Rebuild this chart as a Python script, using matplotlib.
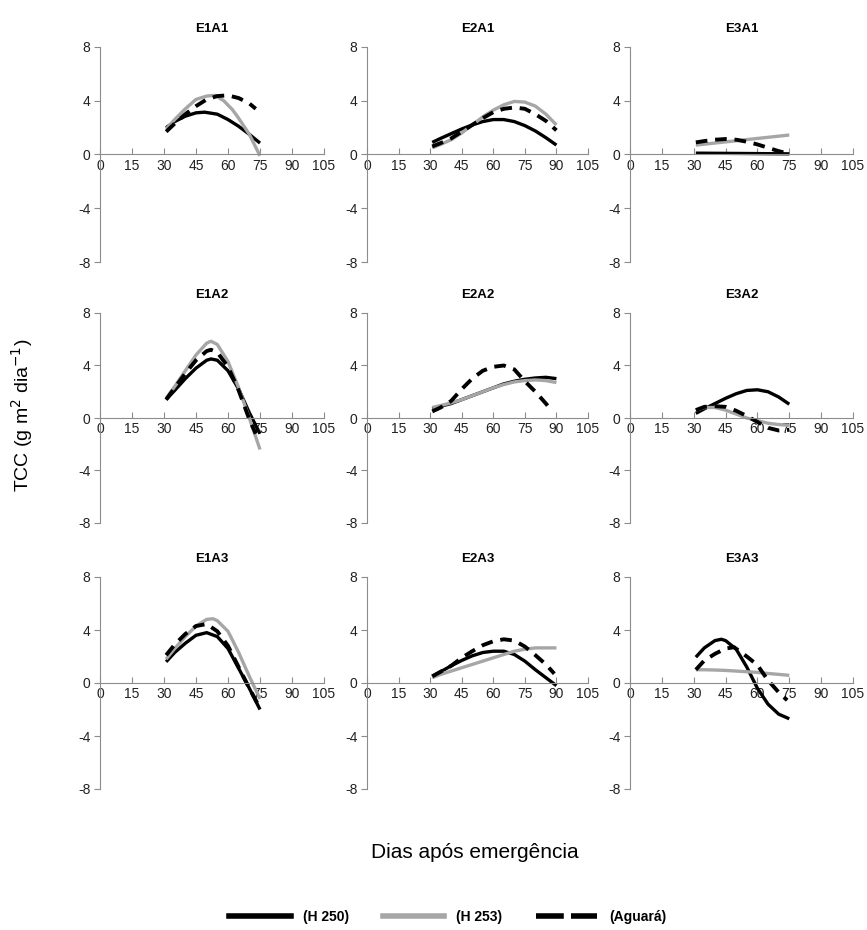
import matplotlib.pyplot as plt
from matplotlib.lines import Line2D

plt.rcParams['font.family'] = ['Liberation Sans', 'DejaVu Sans']
plt.rcParams['axes.unicode_minus'] = False

# days after emergence and TCC values
titles = ["E1A1", "E2A1", "E3A1",
          "E1A2", "E2A2", "E3A2",
          "E1A3", "E2A3", "E3A3"]

d75 = [31, 35, 40, 45, 50, 55, 60, 65, 70, 75]
d90 = [31, 35, 40, 45, 50, 55, 60, 65, 70, 75, 80, 85, 90]

# E1A1
e1a1_h250 = ([31, 35, 40, 45, 49, 55, 60, 65, 70, 75],
             [2.0, 2.45, 2.85, 3.1, 3.15, 3.0, 2.6, 2.1, 1.5, 0.85])
e1a1_h253 = ([31, 35, 40, 45, 50, 54, 58, 62, 65, 70, 75],
             [1.9, 2.6, 3.4, 4.1, 4.35, 4.4, 4.0, 3.35, 2.7, 1.5, -0.1])
e1a1_agu = ([31, 35, 40, 45, 50, 55, 60, 65, 70, 73],
            [1.7, 2.3, 3.0, 3.6, 4.1, 4.35, 4.4, 4.2, 3.8, 3.4])
# E2A1
e2a1_h250 = (d90, [0.9, 1.2, 1.55, 1.9, 2.2, 2.45, 2.6, 2.6, 2.45, 2.15, 1.75, 1.25, 0.7])
e2a1_h253 = (d90, [0.5, 0.75, 1.1, 1.6, 2.2, 2.8, 3.3, 3.7, 3.95, 3.9, 3.6, 3.0, 2.2])
e2a1_agu = (d90, [0.6, 0.85, 1.2, 1.7, 2.2, 2.7, 3.15, 3.4, 3.5, 3.4, 3.0, 2.5, 1.8])
# E3A1
e3a1_h250 = ([31, 50, 75], [0.1, 0.08, 0.05])
e3a1_h253 = ([31, 75], [0.7, 1.45])
e3a1_agu = (d75, [0.9, 1.0, 1.1, 1.15, 1.1, 0.95, 0.75, 0.5, 0.25, 0.05])
# E1A2
e1a2_h250 = ([31, 35, 40, 45, 50, 52, 55, 60, 65, 70, 75],
             [1.4, 2.1, 3.0, 3.8, 4.4, 4.5, 4.4, 3.6, 2.2, 0.4, -1.2])
e1a2_h253 = ([31, 35, 40, 45, 50, 52, 55, 60, 65, 70, 75],
             [1.5, 2.4, 3.6, 4.8, 5.7, 5.85, 5.6, 4.3, 2.3, 0.0, -2.4])
e1a2_agu = ([31, 35, 40, 45, 50, 52, 55, 60, 65, 70, 73],
            [1.4, 2.3, 3.4, 4.4, 5.1, 5.2, 5.0, 3.9, 2.1, -0.1, -1.2])
# E2A2
e2a2_h250 = (d90, [0.7, 0.9, 1.1, 1.4, 1.7, 2.0, 2.3, 2.6, 2.8, 2.95, 3.05, 3.1, 3.0])
e2a2_h253 = (d90, [0.8, 0.95, 1.15, 1.4, 1.7, 2.0, 2.3, 2.55, 2.75, 2.85, 2.9, 2.85, 2.7])
e2a2_agu = ([31, 35, 40, 45, 50, 55, 60, 65, 70, 75, 80, 85, 87],
            [0.5, 0.8, 1.3, 2.2, 3.0, 3.6, 3.9, 4.0, 3.7, 2.8, 2.0, 1.1, 0.7])
# E3A2
e3a2_h250 = (d75, [0.35, 0.7, 1.1, 1.5, 1.85, 2.1, 2.15, 2.0, 1.6, 1.05])
e3a2_h253 = (d75, [0.6, 0.8, 0.8, 0.6, 0.3, 0.0, -0.2, -0.4, -0.5, -0.55])
e3a2_agu = (d75, [0.6, 0.85, 0.9, 0.85, 0.55, 0.15, -0.3, -0.75, -0.95, -0.9])
# E1A3
e1a3_h250 = (d75, [1.6, 2.3, 3.0, 3.6, 3.8, 3.5, 2.6, 1.1, -0.4, -2.0])
e1a3_h253 = ([31, 35, 40, 45, 50, 53, 55, 60, 65, 70, 75],
             [1.8, 2.6, 3.5, 4.3, 4.8, 4.85, 4.7, 3.9, 2.3, 0.5, -1.2])
e1a3_agu = ([31, 35, 40, 45, 50, 55, 60, 65, 70, 74],
            [2.1, 2.9, 3.7, 4.3, 4.45, 3.9, 2.8, 1.2, -0.4, -1.6])
# E2A3
e2a3_h250 = (d90, [0.5, 0.85, 1.3, 1.7, 2.05, 2.3, 2.4, 2.4, 2.15, 1.65, 1.0, 0.4, -0.2])
e2a3_h253 = (d90, [0.4, 0.65, 0.9, 1.15, 1.4, 1.65, 1.9, 2.15, 2.4, 2.55, 2.65, 2.65, 2.65])
e2a3_agu = ([31, 35, 40, 45, 50, 55, 60, 65, 70, 75, 80, 85, 89],
            [0.5, 0.85, 1.3, 1.9, 2.4, 2.85, 3.15, 3.3, 3.2, 2.75, 2.1, 1.4, 0.7])
# E3A3
e3a3_h250 = ([31, 35, 40, 43, 45, 50, 55, 60, 65, 70, 75],
             [1.95, 2.65, 3.2, 3.3, 3.2, 2.55, 1.2, -0.4, -1.6, -2.35, -2.7])
e3a3_h253 = (d75, [1.0, 1.0, 0.98, 0.95, 0.9, 0.85, 0.8, 0.72, 0.65, 0.58])
e3a3_agu = ([31, 35, 40, 45, 49, 55, 60, 65, 70, 74],
            [1.0, 1.7, 2.2, 2.6, 2.7, 2.0, 1.35, 0.2, -0.7, -1.3])

panels = [
    (e1a1_h250, e1a1_h253, e1a1_agu), (e2a1_h250, e2a1_h253, e2a1_agu), (e3a1_h250, e3a1_h253, e3a1_agu),
    (e1a2_h250, e1a2_h253, e1a2_agu), (e2a2_h250, e2a2_h253, e2a2_agu), (e3a2_h250, e3a2_h253, e3a2_agu),
    (e1a3_h250, e1a3_h253, e1a3_agu), (e2a3_h250, e2a3_h253, e2a3_agu), (e3a3_h250, e3a3_h253, e3a3_agu),
]

series_labels = ["(H 250)", "(H 253)", "(Aguará)"]
x_ticks = [0, 15, 30, 45, 60, 75, 90, 105]
y_ticks = [-8, -4, 0, 4, 8]

W, H = 867, 930
fig = plt.figure(figsize=(W / 100, H / 100), dpi=100)

# pixel boxes of the plot areas (x from 0 to 105, y from -8 to 8)
col_px = [(100, 324), (367, 588), (630, 853)]
row_px = [(47, 262), (313, 523), (577, 789)]

axis_grey = "#8c8c8c"
styles = [dict(color="black", lw=2.4, ls="-"),
          dict(color="#a6a6a6", lw=2.4, ls="-"),
          dict(color="black", lw=2.8, ls=(0, (3, 2)))]

for i, (title, curves) in enumerate(zip(titles, panels)):
    r, c = divmod(i, 3)
    x0, x1 = col_px[c]
    y0, y1 = row_px[r]
    ax = fig.add_axes([x0 / W, 1 - y1 / H, (x1 - x0) / W, (y1 - y0) / H])
    for (xs, ys), st in zip(curves, styles):
        ax.plot(xs, ys, solid_capstyle="butt", dash_capstyle="butt", **st)
    ax.set_xlim(0, 105)
    ax.set_ylim(-8, 8)
    ax.set_xticks(x_ticks)
    ax.set_yticks(y_ticks)
    ax.spines["top"].set_visible(False)
    ax.spines["right"].set_visible(False)
    ax.spines["bottom"].set_position(("data", 0))
    ax.spines["left"].set_color(axis_grey)
    ax.spines["bottom"].set_color(axis_grey)
    ax.tick_params(axis="x", direction="in", length=4, color=axis_grey,
                   labelsize=10, pad=3, labelcolor="#222222")
    ax.tick_params(axis="y", direction="out", length=4, color=axis_grey,
                   labelsize=10, pad=3, labelcolor="#222222")
    ax.patch.set_alpha(0)
    ax.set_title(title, fontsize=9.5, fontweight="bold", pad=11)

fig.text(22 / W, 1 - 415 / H, "TCC (g m$^{2}$ dia$^{-1}$)", rotation=90,
         ha="center", va="center", fontsize=14)
fig.text(475 / W, 1 - 852 / H, "Dias após emergência", ha="center",
         va="center", fontsize=15)

handles = [Line2D([], [], color="black", lw=4),
           Line2D([], [], color="#a6a6a6", lw=4),
           Line2D([], [], color="black", lw=4, ls=(0, (5, 1.3)))]
leg = fig.legend(handles, series_labels, loc="center", ncol=3,
                 bbox_to_anchor=(448 / W, 1 - 917 / H), frameon=False,
                 handlelength=4.4, columnspacing=2.4, handletextpad=0.9,
                 prop=dict(size=10, weight="bold"))

fig.savefig("out.png", dpi=100)
